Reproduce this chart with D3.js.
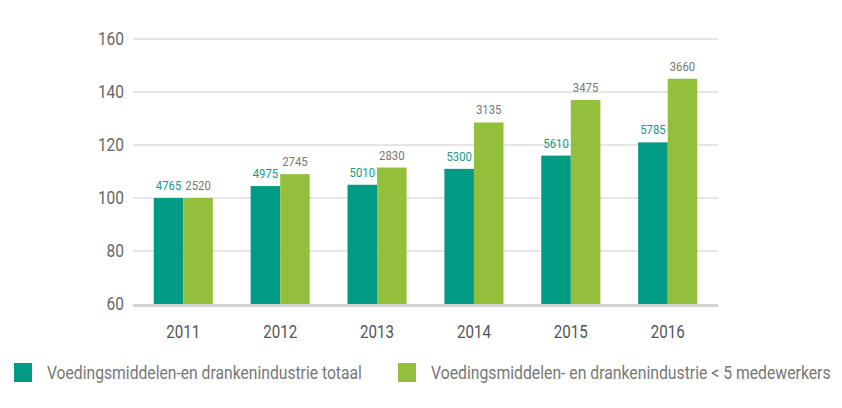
<!DOCTYPE html>
<html><head><meta charset="utf-8">
<script src="https://cdn.jsdelivr.net/npm/d3@7"></script>
<style>
body{margin:0;background:#fff;}
svg{display:block;font-family:Roboto,"Noto Sans",sans-serif;}
</style></head>
<body><svg id="c" width="842" height="408"></svg>
<script>
const years = ["2011","2012","2013","2014","2015","2016"];
const totaalIndex = [100,104.5,105,111,116,121];
const kleinIndex = [100,109,111.5,128.5,137,145];
const totaalLabels = ["4765","4975","5010","5300","5610","5785"];
const kleinLabels = ["2520","2745","2830","3135","3475","3660"];
const yTicks = [60,80,100,120,140,160];
const seriesNames = ["Voedingsmiddelen-en drankenindustrie totaal","Voedingsmiddelen- en drankenindustrie < 5 medewerkers"];
const colors = ["#009a85","#94bf3b"];
const labelColors = ["#1a9a86","#777"];

const svg = d3.select("#c");
const x0 = d3.scaleBand().domain(years).range([133,718]).paddingInner(0.39).paddingOuter(0.214);
const x1 = d3.scaleBand().domain([0,1]).range([0,x0.bandwidth()]);
const y = d3.scaleLinear().domain([60,160]).range([304,39]);

// horizontal condensing helper
function condense(sel, f){
  sel.each(function(){
    const t = d3.select(this);
    const x = +t.attr("x"), yy = +t.attr("y");
    t.attr("transform",`translate(${x},${yy}) scale(${f},1) translate(${-x},${-yy})`);
  });
}

// grid
svg.append("g").selectAll("line").data(yTicks.slice(1)).join("line")
  .attr("x1",133).attr("x2",718).attr("y1",d=>y(d)).attr("y2",d=>y(d))
  .attr("stroke","#dedede").attr("stroke-width",1.3);
// y labels
svg.append("g").selectAll("text").data(yTicks).join("text")
  .attr("x",124).attr("y",d=>y(d)).attr("dy","0.35em").attr("text-anchor","end")
  .attr("font-size",18).attr("fill","#666").text(d=>d).call(condense,0.86);

const rows = years.map((yr,i)=>({yr, vals:[totaalIndex[i],kleinIndex[i]], labs:[totaalLabels[i],kleinLabels[i]]}));
const g = svg.append("g").selectAll("g").data(rows).join("g")
  .attr("transform",d=>`translate(${x0(d.yr)},0)`);
g.selectAll("rect").data(d=>d.vals.map((v,k)=>({v,k}))).join("rect")
  .attr("x",d=>x1(d.k)).attr("width",x1.bandwidth())
  .attr("y",d=>y(d.v)).attr("height",d=>y(60)-y(d.v)).attr("fill",d=>colors[d.k]);
g.selectAll("text").data(d=>d.labs.map((l,k)=>({l,k,v:d.vals[k]}))).join("text")
  .attr("x",d=>x1(d.k)+x1.bandwidth()/2).attr("y",d=>y(d.v)-8)
  .attr("text-anchor","middle").attr("font-size",13.5).attr("fill",d=>labelColors[d.k]).text(d=>d.l)
  .call(condense,0.84);

// baseline
svg.append("line").attr("x1",133).attr("x2",718).attr("y1",y(60)+1.5).attr("y2",y(60)+1.5)
  .attr("stroke","#d4d4d4").attr("stroke-width",3);

// x labels
svg.append("g").selectAll("text").data(years).join("text")
  .attr("x",d=>x0(d)+x0.bandwidth()/2).attr("y",338).attr("text-anchor","middle")
  .attr("font-size",18).attr("fill","#555").text(d=>d).call(condense,0.84);

// legend
const legX = [14,398];
const legW = [315,400];
const lg = svg.append("g").selectAll("g").data(seriesNames).join("g")
  .attr("transform",(d,i)=>`translate(${legX[i]},363)`);
lg.append("rect").attr("width",18).attr("height",19).attr("fill",(d,i)=>colors[i]);
lg.append("text").attr("x",33).attr("y",10).attr("dy","0.35em").attr("font-size",18).attr("fill","#777").text(d=>d)
  .each(function(d,i){
    const w = this.getComputedTextLength();
    d3.select(this).call(condense, legW[i]/w);
  });
</script></body></html>
